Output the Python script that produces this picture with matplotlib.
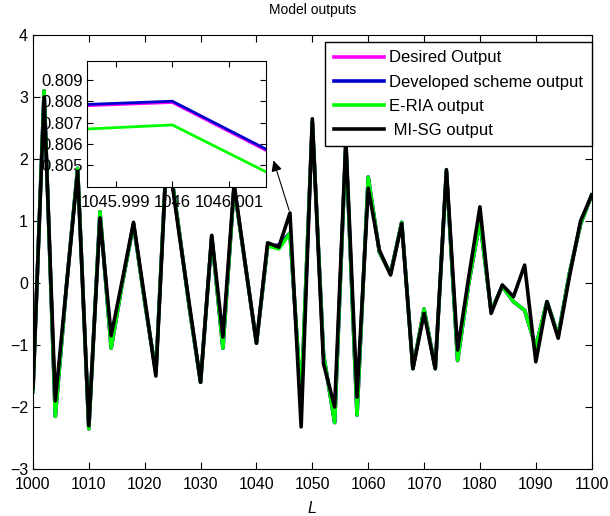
import numpy as np
import matplotlib.pyplot as plt

plt.rcParams['font.family'] = ['Liberation Sans', 'DejaVu Sans']

# sample index L (every 2 steps from 1000 to 1100)
L = np.arange(1000, 1101, 2)

desired = [-1.75, 3.1, -2.15, -0.05, 1.85, -2.35, 1.15, -1.05, 0.0, 0.95,
           -0.3, -1.45, 2.25, 0.95, -0.4, -1.6, 0.75, -1.05, 1.55, 0.3,
           -0.97, 0.6, 0.6079, 0.80795, -1.915, 2.6, -1.15, -2.25, 2.25, -2.13,
           1.71, 0.5, 0.15, 0.98, -1.38, -0.42, -1.38, 1.8, -1.25, 0.0,
           1.0, -0.45, -0.05, -0.3, -0.44, -1.03, -0.3, -0.85, 0.15, 0.95,
           1.42]
developed = [-1.75, 3.1, -2.15, -0.05, 1.85, -2.35, 1.15, -1.05, 0.0, 0.95,
             -0.3, -1.45, 2.25, 0.95, -0.4, -1.6, 0.75, -1.05, 1.55, 0.3,
             -0.97, 0.6, 0.6080, 0.80801, -1.912, 2.6, -1.15, -2.25, 2.25, -2.13,
             1.71, 0.5, 0.15, 0.98, -1.38, -0.42, -1.38, 1.8, -1.25, 0.0,
             1.0, -0.45, -0.05, -0.3, -0.44, -1.03, -0.3, -0.85, 0.15, 0.95,
             1.42]
eria = [-1.75, 3.1, -2.15, -0.05, 1.85, -2.35, 1.15, -1.05, 0.0, 0.95,
        -0.3, -1.45, 2.25, 0.95, -0.4, -1.6, 0.75, -1.05, 1.55, 0.3,
        -0.97, 0.6, 0.5510, 0.80690, -1.86, 2.6, -1.15, -2.25, 2.25, -2.13,
        1.71, 0.5, 0.15, 0.98, -1.38, -0.42, -1.38, 1.8, -1.25, 0.0,
        1.0, -0.45, -0.05, -0.3, -0.44, -1.03, -0.3, -0.85, 0.15, 0.95,
        1.42]
misg = [-1.7, 3.0, -1.9, -0.05, 1.8, -2.3, 1.05, -0.85, 0.05, 0.98,
        -0.25, -1.5, 2.2, 0.9, -0.35, -1.6, 0.77, -0.87, 1.6, 0.3,
        -0.97, 0.65, 0.58, 1.13, -2.32, 2.65, -1.3, -2.0, 2.3, -1.84,
        1.53, 0.53, 0.13, 0.96, -1.38, -0.49, -1.38, 1.83, -1.08, 0.1,
        1.23, -0.49, -0.03, -0.22, 0.29, -1.27, -0.3, -0.89, 0.1, 1.0,
        1.42]

labels = ['Desired Output', 'Developed scheme output', 'E-RIA output', ' MI-SG output']
colors = ['#ff00ff', '#0000cc', '#00ff00', 'black']
series = [desired, developed, eria, misg]

fig = plt.figure(figsize=(6.10, 5.16), dpi=100)
ax = fig.add_axes([0.054, 0.091, 0.916, 0.841])

for y, c, lab in zip(series, colors, labels):
    ax.plot(L, y, color=c, lw=2.6, label=lab)

ax.set_xlim(1000, 1100)
ax.set_ylim(-3, 4)
ax.set_xticks(np.arange(1000, 1101, 10))
ax.set_yticks(np.arange(-3, 5, 1))
ax.tick_params(direction='in', top=True, right=True, labelsize=11.5, length=5)
ax.tick_params(axis='x', pad=6)
ax.set_title('Model outputs', fontsize=10, pad=15)
ax.set_xlabel('L', fontsize=11.5, style='italic', labelpad=6)

leg = ax.legend(loc='upper right', bbox_to_anchor=(1.0, 0.984), borderaxespad=0,
                fontsize=12, fancybox=False, edgecolor='black', framealpha=1,
                handlelength=3.0, handletextpad=0.35, labelspacing=0.55,
                borderpad=0.5)
leg.get_frame().set_linewidth(1.0)

# arrow from the sample at L=1046 up to the zoomed view
ax.annotate('', xy=(1042.9, 2.02), xytext=(1046, 1.13),
            arrowprops=dict(arrowstyle='-|>', color='black', lw=0.8,
                            mutation_scale=16))

# zoomed view around L=1046
axin = fig.add_axes([0.143, 0.638, 0.293, 0.244])
for y, c in zip(series, colors):
    axin.plot(L, y, color=c, lw=2.0)
axin.set_xlim(1045.9985, 1046.00165)
axin.set_ylim(0.804, 0.8099)
axin.set_xticks([1045.999, 1046, 1046.001])
axin.set_xticklabels(['1045.999', '1046', '1046.001'])
axin.set_yticks([0.805, 0.806, 0.807, 0.808, 0.809])
axin.set_yticklabels(['0.805', '0.806', '0.807', '0.808', '0.809'])
axin.tick_params(direction='in', top=True, right=True, labelsize=12, length=4, pad=3)
axin.tick_params(axis='x', pad=6)

fig.savefig('out.png', dpi=100)
